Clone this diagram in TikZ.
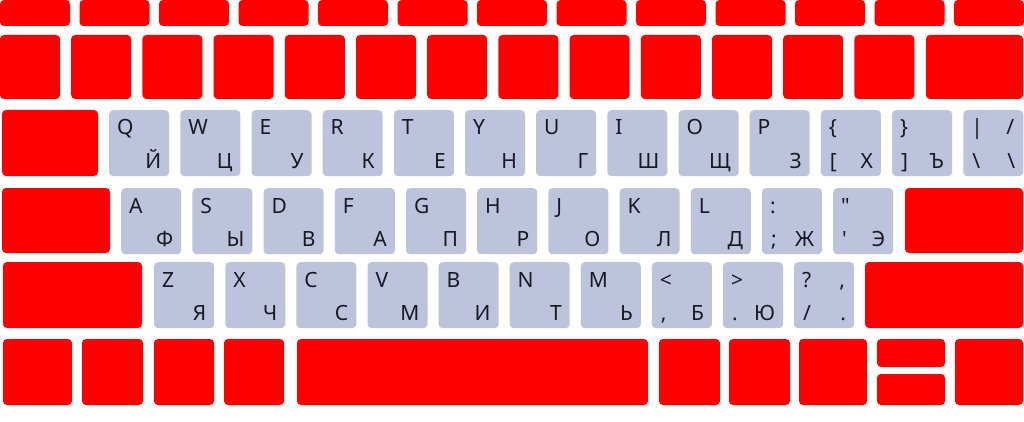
\documentclass[tikz,border=0pt]{standalone}
\usepackage{fontspec}
\setmainfont{Noto Sans}
\usetikzlibrary{positioning}
\definecolor{keyred}{RGB}{255,0,0}
\definecolor{keylav}{RGB}{190,195,221}
\definecolor{ink}{RGB}{25,25,35}
% light key: name, left, top, top-left, top-right, bottom-left, bottom-right
\newcommand{\lkey}[7]{%
  \node[lkey] (#1) at ({#2},{#3}) {};
  \node[ltop] at (#1.north west) {#4};
  \node[rtop] at (#1.north east) {#5};
  \node[lbot] at (#1.south west) {#6};
  \node[rbot] at (#1.south east) {#7};}

\begin{document}
\begin{tikzpicture}[x=1pt,y=-1pt,
      rkey/.style={fill=keyred,rounded corners=4pt},
      lkey/.style={fill=keylav,rounded corners=4pt,inner sep=0pt,
                   minimum width=60pt,minimum height=66pt,anchor=north west},
      lbl/.style={inner sep=0pt,text=ink,font=\fontsize{21}{21}\selectfont},
      ltop/.style={lbl,anchor=base west,xshift=8pt,yshift=-25pt},
      rtop/.style={lbl,anchor=base east,xshift=-9pt,yshift=-25pt},
      lbot/.style={lbl,anchor=base west,xshift=9pt,yshift=8pt},
      rbot/.style={lbl,anchor=base east,xshift=-8pt,yshift=8pt}]
  \useasboundingbox (0,0) rectangle (1024,422);
  % function row
  \foreach \i in {0,...,12} \path[rkey] ({79.5*\i},0) rectangle ({79.5*\i+70},26);
  % number row
  \foreach \i in {0,...,12} \path[rkey] ({71.2*\i},35) rectangle ({71.2*\i+60},99);
  \path[rkey] (926,35) rectangle (1023,99);
  % top letter row
  \path[rkey] (2,110) rectangle (98,176);
  \foreach \up/\dn [count=\i from 0] in {Q/Й,W/Ц,E/У,R/К,T/Е,Y/Н,U/Г,I/Ш,O/Щ,P/З}
    {\lkey{k\up}{109+71.17*\i}{110}{\up}{}{}{\dn}}
  \lkey{kbrl}{109+71.17*10}{110}{\{}{}{[}{Х}
  \lkey{kbrr}{109+71.17*11}{110}{\}}{}{]}{Ъ}
  \lkey{kbsl}{109+71.17*12}{110}{|}{/}{\textbackslash}{\textbackslash}
  % home row
  \path[rkey] (2,188) rectangle (110,253);
  \foreach \up/\dn [count=\i from 0] in {A/Ф,S/Ы,D/В,F/А,G/П,H/Р,J/О,K/Л,L/Д}
    {\lkey{k\up}{121+71.2*\i}{188}{\up}{}{}{\dn}}
  \lkey{ksemi}{121+71.2*9}{188}{:}{}{;}{Ж}
  \lkey{kquot}{121+71.2*10}{188}{\textquotedbl}{}{\textquotesingle}{Э}
  \path[rkey] (905,188) rectangle (1023,253);
  % bottom letter row
  \path[rkey] (3,262) rectangle (142,328);
  \foreach \up/\dn [count=\i from 0] in {Z/Я,X/Ч,C/С,V/М,B/И,N/Т,M/Ь}
    {\lkey{k\up}{154+71.1*\i}{262}{\up}{}{}{\dn}}
  \lkey{kcomma}{154+71.1*7}{262}{<}{}{,}{Б}
  \lkey{kdot}{154+71.1*8}{262}{>}{}{.}{Ю}
  \lkey{kslash}{154+71.1*9}{262}{?}{,}{/}{.}
  \path[rkey] (865,262) rectangle (1023,328);
  % space row
  \path[rkey] (3,339) rectangle (72,405);
  \path[rkey] (82,339) rectangle (143,405);
  \path[rkey] (154,339) rectangle (214,405);
  \path[rkey] (224,339) rectangle (284,405);
  \path[rkey] (297,339) rectangle (648,405);
  \path[rkey] (659,339) rectangle (720,405);
  \path[rkey] (729,339) rectangle (790,405);
  \path[rkey] (799,339) rectangle (867,405);
  \path[rkey] (877,339) rectangle (945,367);
  \path[rkey] (877,374) rectangle (945,405);
  \path[rkey] (955,339) rectangle (1023,405);
\end{tikzpicture}
\end{document}
